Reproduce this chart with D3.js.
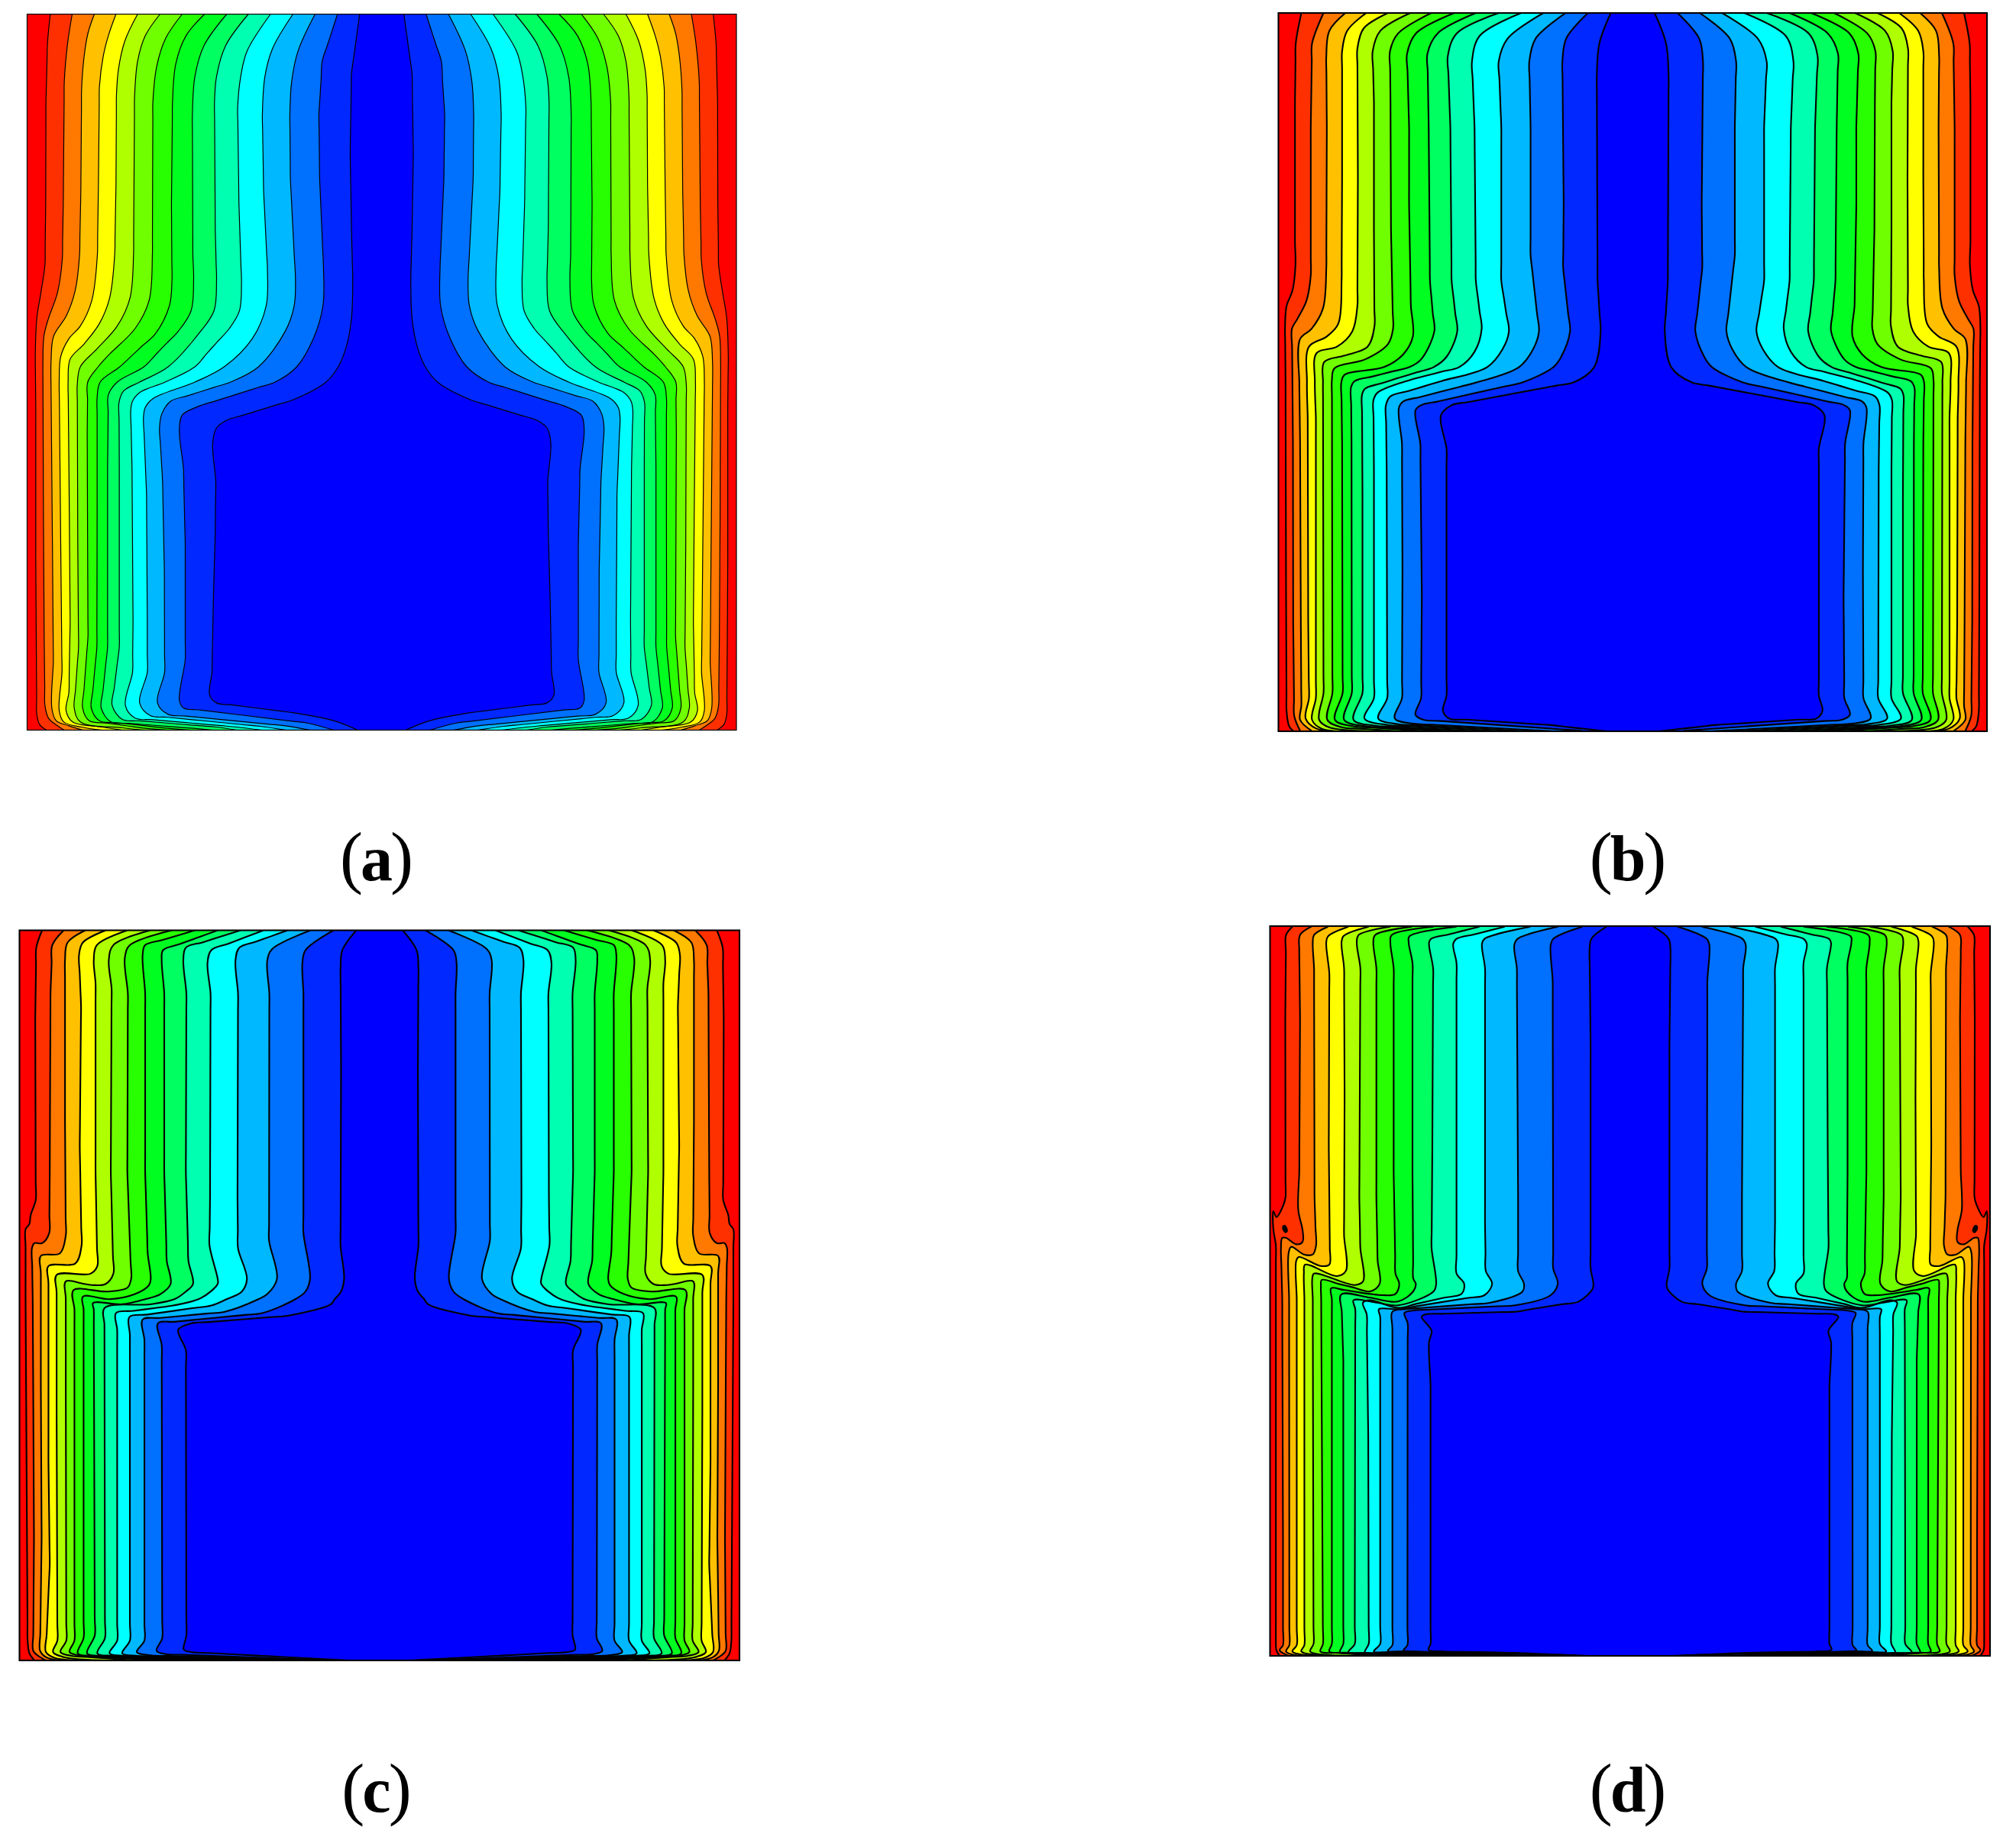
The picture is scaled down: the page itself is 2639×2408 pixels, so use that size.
<!DOCTYPE html>
<html>
<head>
<meta charset="utf-8">
<script src="https://cdn.jsdelivr.net/npm/d3@7/dist/d3.min.js"></script>
<style>
html,body{margin:0;padding:0;background:#fff;}
svg{display:block;}
</style>
</head>
<body>
<svg id="chart" width="2639" height="2408"></svg>
<script>
const bandColors = ["#ff0000","#ff3000","#ff7800","#ffc000","#ffff00","#b0ff00","#70ff00","#28ff00","#00ff20","#00ff60","#00ffb0","#00ffff","#00b8ff","#0070ff","#0028ff","#0000ff"];
const panelLabels = ["a","b","c","d"];

const contoursA = [
[[137,55],[126,170],[120,400],[119,800],[116,1040],[100,1150],[84,1250],[78,1400],[80,1600],[80,2200],[82,2540],[84,2805],[95,2845],[122,2867]],
[[223,55],[205,170],[192,320],[188,800],[184,1020],[165,1150],[130,1250],[112,1320],[108,1440],[110,2000],[113,2500],[116,2770],[130,2820],[165,2850],[192,2867]],
[[310,55],[285,130],[270,220],[260,350],[257,750],[252,1000],[235,1140],[200,1240],[150,1320],[140,1420],[140,1520],[146,2200],[149,2600],[143,2780],[160,2830],[210,2850],[265,2867]],
[[395,55],[365,140],[345,220],[330,340],[326,730],[322,1000],[300,1180],[255,1280],[210,1330],[178,1400],[172,1500],[178,2140],[183,2640],[172,2790],[190,2835],[260,2855],[340,2867]],
[[480,55],[430,160],[405,270],[397,370],[395,730],[390,1000],[370,1170],[330,1270],[270,1350],[215,1410],[207,1500],[212,2040],[215,2440],[210,2720],[199,2790],[225,2835],[340,2855],[420,2867]],
[[568,55],[510,140],[480,240],[468,380],[464,1000],[450,1170],[400,1280],[320,1370],[255,1440],[243,1510],[245,2140],[248,2540],[231,2780],[255,2835],[420,2858],[505,2867]],
[[655,55],[590,150],[555,260],[540,400],[538,1000],[525,1180],[470,1290],[370,1390],[325,1440],[284,1500],[282,1700],[285,2500],[264,2780],[290,2830],[510,2860],[595,2867]],
[[743,55],[670,140],[630,250],[617,400],[613,800],[615,1100],[605,1200],[550,1310],[410,1440],[333,1500],[321,1560],[321,2000],[320,2540],[298,2780],[330,2830],[600,2860],[685,2867]],
[[830,55],[740,180],[705,300],[695,450],[697,1000],[700,1100],[690,1220],[640,1300],[505,1440],[400,1500],[365,1550],[362,1840],[362,2540],[337,2780],[375,2835],[700,2860],[775,2867]],
[[915,55],[825,180],[790,300],[782,400],[785,900],[790,1100],[780,1220],[720,1310],[600,1440],[488,1500],[425,1535],[407,1580],[408,1840],[408,2540],[380,2770],[420,2825],[790,2855],[870,2867]],
[[1002,55],[910,200],[885,300],[873,420],[878,800],[888,1110],[880,1220],[840,1290],[705,1440],[588,1500],[490,1540],[460,1575],[453,1610],[458,1840],[462,2440],[460,2640],[432,2770],[470,2820],[870,2855],[968,2867]],
[[1090,55],[1010,190],[980,300],[970,450],[975,750],[990,1060],[985,1200],[930,1330],[820,1440],[705,1500],[540,1565],[510,1600],[503,1640],[515,1940],[518,2440],[518,2640],[488,2760],[530,2810],[960,2852],[1062,2867]],
[[1177,55],[1110,200],[1085,320],[1078,450],[1080,700],[1095,1000],[1100,1100],[1095,1200],[1060,1300],[955,1440],[845,1500],[610,1575],[575,1625],[566,1680],[578,1890],[585,2240],[586,2640],[558,2760],[600,2805],[1060,2850],[1158,2867]],
[[1265,55],[1205,240],[1192,450],[1195,700],[1210,1050],[1208,1200],[1170,1330],[1105,1440],[1020,1500],[720,1595],[655,1630],[644,1690],[660,1840],[667,2140],[667,2590],[644,2750],[660,2780],[1150,2840],[1250,2867]],
[[1352,55],[1320,290],[1315,600],[1320,900],[1325,1100],[1320,1250],[1300,1360],[1268,1440],[1220,1500],[1090,1570],[830,1650],[790,1680],[775,1740],[787,1890],[785,2090],[778,2340],[772,2640],[763,2730],[790,2760],[1100,2800],[1250,2830],[1345,2867]]
];

const contoursB = [
[[130,50],[108,170],[105,400],[105,950],[107,1040],[95,1140],[72,1200],[66,1280],[68,1500],[70,2340],[72,2790],[82,2850],[100,2870]],
[[217,50],[172,170],[167,500],[167,1080],[150,1180],[115,1250],[93,1290],[95,1500],[97,1740],[98,2440],[102,2810],[125,2868]],
[[303,50],[240,120],[228,220],[230,500],[228,1050],[215,1210],[170,1290],[125,1330],[122,1500],[125,1740],[128,2440],[130,2770],[125,2825],[170,2868]],
[[385,50],[310,120],[290,200],[290,700],[288,1100],[275,1270],[230,1320],[160,1360],[152,1500],[155,1640],[157,2440],[160,2740],[147,2820],[190,2860],[260,2870]],
[[470,50],[375,110],[350,190],[352,700],[350,1200],[330,1300],[270,1360],[190,1385],[183,1500],[187,1640],[187,2740],[172,2825],[210,2860],[330,2870]],
[[558,50],[440,120],[410,200],[415,400],[415,900],[417,1280],[390,1360],[300,1395],[220,1420],[215,1500],[217,2720],[200,2825],[240,2855],[420,2870]],
[[640,50],[510,130],[478,200],[480,400],[482,900],[490,1290],[470,1350],[380,1410],[260,1445],[250,1490],[252,2720],[232,2825],[290,2855],[510,2870]],
[[730,50],[580,130],[545,210],[553,500],[553,800],[560,1200],[568,1320],[530,1390],[455,1440],[300,1470],[287,1500],[290,1740],[292,2720],[262,2825],[330,2850],[620,2870]],
[[815,50],[665,130],[625,210],[630,500],[635,1100],[652,1300],[600,1410],[555,1440],[340,1495],[325,1520],[327,1740],[328,2720],[298,2825],[380,2850],[720,2870]],
[[905,50],[740,130],[705,220],[715,500],[720,1100],[742,1300],[700,1400],[650,1440],[440,1505],[380,1525],[368,1550],[370,1940],[370,2720],[335,2825],[420,2848],[820,2870]],
[[993,50],[830,140],[800,240],[810,500],[815,1100],[838,1290],[810,1380],[750,1440],[560,1490],[430,1540],[413,1570],[415,1840],[415,2740],[378,2820],[470,2845],[920,2870]],
[[1080,50],[940,150],[905,240],[915,500],[915,1100],[945,1300],[920,1370],[860,1440],[680,1495],[480,1555],[462,1590],[465,1840],[467,2740],[432,2820],[510,2842],[1020,2870]],
[[1168,50],[1050,150],[1025,240],[1030,500],[1030,1000],[1063,1300],[1040,1370],[985,1440],[820,1500],[530,1575],[513,1600],[525,1740],[527,2240],[525,2740],[497,2820],[570,2840],[1120,2870]],
[[1255,50],[1170,150],[1155,240],[1160,800],[1158,1050],[1185,1300],[1150,1400],[1120,1440],[1000,1500],[600,1590],[578,1610],[597,1740],[603,2340],[600,2740],[578,2805],[610,2825],[1230,2868]],
[[1345,50],[1300,170],[1290,300],[1293,1100],[1305,1300],[1280,1440],[1200,1500],[720,1590],[678,1630],[700,1760],[700,2730],[686,2790],[710,2820],[1100,2845],[1330,2870]]
];

const contoursC = [
[[135,52],[112,120],[108,400],[110,1110],[90,1170],[85,1205],[70,1225],[70,1500],[75,2340],[78,2840],[85,2890],[105,2918]],
[[220,52],[175,110],[168,300],[165,1000],[163,1240],[135,1280],[105,1280],[95,1300],[98,1500],[100,1840],[103,2440],[100,2880],[120,2900],[150,2918]],
[[305,52],[235,100],[225,170],[225,800],[228,1250],[205,1320],[130,1330],[130,1840],[133,2440],[127,2880],[150,2905],[200,2918]],
[[385,52],[295,100],[280,150],[288,350],[283,900],[290,1290],[265,1360],[160,1370],[160,2140],[165,2540],[150,2885],[185,2908],[300,2918]],
[[470,52],[350,110],[338,170],[345,260],[345,1000],[352,1370],[325,1400],[192,1405],[192,1940],[195,2840],[178,2885],[220,2905],[400,2918]],
[[560,52],[415,110],[397,170],[408,280],[405,1000],[415,1400],[385,1440],[345,1445],[300,1440],[228,1430],[228,1840],[230,2840],[207,2885],[250,2900],[500,2918]],
[[645,52],[480,110],[460,160],[472,300],[470,1000],[485,1420],[470,1455],[390,1470],[258,1465],[262,1540],[262,2840],[243,2885],[290,2900],[600,2918]],
[[735,52],[540,110],[530,150],[540,300],[540,1000],[550,1320],[562,1420],[555,1445],[500,1480],[400,1500],[295,1490],[298,1540],[298,2830],[275,2890],[330,2900],[700,2918]],
[[825,52],[610,130],[605,170],[615,300],[615,1000],[625,1350],[640,1440],[600,1480],[540,1500],[450,1520],[335,1515],[338,1540],[342,2820],[312,2890],[370,2900],[800,2918]],
[[915,52],[700,120],[690,170],[702,300],[700,1000],[710,1350],[728,1440],[700,1470],[655,1500],[560,1520],[380,1535],[380,1600],[382,2830],[352,2890],[410,2900],[900,2918]],
[[1005,52],[800,130],[785,180],[797,300],[795,1100],[793,1290],[825,1420],[825,1440],[760,1495],[650,1525],[425,1555],[430,1620],[430,2840],[400,2890],[460,2900],[1000,2918]],
[[1100,52],[910,120],[895,170],[905,300],[903,1100],[905,1300],[940,1420],[920,1470],[860,1500],[800,1525],[478,1570],[480,1640],[480,2840],[450,2890],[510,2900],[1100,2918]],
[[1190,52],[1040,125],[1020,170],[1028,300],[1027,1270],[1058,1420],[1020,1480],[985,1500],[850,1550],[530,1580],[537,1660],[537,2840],[507,2885],[560,2898],[1200,2918]],
[[1280,52],[1170,130],[1158,180],[1162,300],[1162,1240],[1188,1420],[1170,1470],[1130,1500],[1000,1555],[590,1595],[605,1680],[607,2830],[585,2880],[620,2893],[1260,2918]],
[[1370,52],[1315,130],[1308,200],[1310,600],[1308,1290],[1322,1420],[1310,1470],[1285,1500],[1270,1520],[1100,1565],[720,1595],[670,1620],[700,1700],[702,2820],[692,2875],[720,2885],[1000,2900],[1340,2918]]
];

const contoursD = [
[[125,37],[100,70],[97,400],[98,1100],[90,1130],[62,1178],[50,1155],[50,1225],[60,1290],[60,2840],[62,2880],[75,2902]],
[[200,37],[155,70],[152,130],[155,400],[152,1000],[148,1150],[165,1230],[165,1275],[140,1285],[100,1260],[85,1260],[80,1300],[85,1500],[88,2440],[88,2860],[75,2880],[110,2902]],
[[265,37],[210,70],[205,100],[210,200],[212,1100],[218,1290],[205,1325],[170,1325],[120,1295],[110,1320],[112,1500],[113,2860],[100,2885],[150,2902]],
[[345,37],[265,75],[258,100],[270,220],[268,900],[272,1300],[270,1365],[235,1370],[150,1335],[140,1350],[142,1500],[142,2860],[125,2885],[200,2902]],
[[425,37],[325,75],[318,100],[328,200],[330,700],[328,1250],[335,1390],[300,1410],[175,1365],[170,1400],[172,1500],[172,2860],[160,2885],[280,2902]],
[[510,37],[385,70],[378,100],[392,200],[388,1100],[392,1300],[403,1430],[370,1445],[210,1400],[203,1420],[205,1500],[208,2855],[195,2885],[360,2902]],
[[595,37],[450,70],[443,100],[455,200],[455,1100],[460,1350],[468,1440],[430,1470],[240,1425],[237,1450],[238,1500],[245,2855],[235,2885],[450,2902]],
[[680,37],[515,70],[510,100],[523,200],[523,1000],[530,1400],[545,1440],[530,1480],[480,1485],[330,1465],[277,1458],[280,1500],[280,2855],[270,2885],[540,2902]],
[[770,37],[585,75],[582,100],[597,180],[597,1000],[600,1420],[610,1440],[600,1470],[540,1510],[430,1495],[317,1482],[325,1740],[325,2855],[312,2888],[640,2902]],
[[860,37],[670,85],[662,100],[678,200],[675,900],[672,1300],[690,1440],[680,1470],[540,1525],[460,1515],[365,1505],[372,1540],[370,2855],[345,2888],[740,2902]],
[[960,37],[770,85],[757,105],[770,180],[770,1000],[770,1400],[800,1440],[790,1480],[540,1535],[430,1505],[402,1515],[417,1560],[423,2040],[425,2855],[410,2888],[840,2902]],
[[1060,37],[880,85],[870,105],[882,200],[882,1200],[885,1390],[910,1440],[880,1485],[540,1540],[465,1540],[470,1570],[470,2855],[445,2885],[950,2902]],
[[1170,37],[1010,85],[997,110],[1007,200],[1012,1100],[1012,1390],[1035,1440],[1030,1470],[900,1515],[570,1540],[518,1550],[518,2860],[500,2882],[1060,2902]],
[[1265,37],[1150,85],[1140,110],[1148,250],[1150,1380],[1168,1440],[1140,1485],[1000,1525],[600,1545],[565,1555],[578,1595],[577,2860],[562,2880],[600,2885],[1240,2900]],
[[1360,37],[1300,85],[1293,130],[1297,500],[1297,1380],[1308,1440],[1305,1460],[1250,1510],[1000,1550],[650,1560],[633,1570],[672,1625],[662,1670],[668,1840],[668,2855],[660,2878],[720,2885],[1000,2890],[1285,2902]]
];
const islandD = [[88,1215],[95,1212],[104,1232],[98,1238],[88,1225]];

const panelConfig = [
  {id:"a", contours:contoursA, islands:[],        xDom:[46,1439], yDom:[55,2867], box:[35.5,964,18.5,955.5],  sw:1.2, label:[493,1152]},
  {id:"b", contours:contoursB, islands:[],        xDom:[40,1431], yDom:[50,2870], box:[1673.5,2601,17,957],   sw:2.1, label:[2131,1152]},
  {id:"c", contours:contoursC, islands:[],        xDom:[46,1461], yDom:[52,2918], box:[25.5,968,1217.5,2173], sw:2.1, label:[493,2371]},
  {id:"d", contours:contoursD, islands:[islandD], xDom:[37,1452], yDom:[35,2902], box:[1662.5,2605,1212,2167],sw:2.1, label:[2131,2371]}
];

const svg = d3.select("#chart");
const curve = d3.curveCatmullRom.alpha(0.5);

// Keeps the spline straight along long runs: adds guide knots next to each end of a long span.
function guided(pts){
  const out=[pts[0]];
  for(let i=1;i<pts.length;i++){
    const a=pts[i-1], b=pts[i];
    const len=Math.hypot(b[0]-a[0],b[1]-a[1]);
    if(len>190){
      const f=70/len;
      out.push([a[0]+(b[0]-a[0])*f,a[1]+(b[1]-a[1])*f]);
      out.push([b[0]-(b[0]-a[0])*f,b[1]-(b[1]-a[1])*f]);
    }
    out.push(b);
  }
  return out;
}

panelConfig.forEach(p => {
  const [x0,x1,y0,y1] = p.box;
  const centre = p.xDom[1];
  const mirrorValue = v => 2*centre - v;
  const x = d3.scaleLinear().domain([p.xDom[0], mirrorValue(p.xDom[0])]).range([x0,x1]);
  const y = d3.scaleLinear().domain(p.yDom).range([y0,y1]);
  const baseLine = d3.line().x(d=>x(d[0])).y(d=>y(d[1])).curve(curve);
  const line = pts => baseLine(guided(pts));
  const mirrorPts = pts => pts.map(d=>[mirrorValue(d[0]),d[1]]);

  const defs = svg.append("defs");
  defs.append("clipPath").attr("id","clip-"+p.id).append("rect")
    .attr("x",x0).attr("y",y0).attr("width",x1-x0).attr("height",y1-y0);

  const g = svg.append("g").attr("clip-path","url(#clip-"+p.id+")");
  g.append("rect").attr("x",x0).attr("y",y0).attr("width",x1-x0).attr("height",y1-y0)
    .attr("fill",bandColors[0]);

  // nested fills: each contour and its mirror enclose all cooler bands
  g.selectAll("path.band").data(p.contours).join("path").attr("class","band")
    .attr("d",c=>{
      const right = mirrorPts(c).reverse();
      return line(c)+"L"+line(right).slice(1)+"Z";
    })
    .attr("fill",(c,i)=>bandColors[i+1]);

  const allLines = p.contours.flatMap(c=>[c,mirrorPts(c)]);
  g.selectAll("path.iso").data(allLines).join("path").attr("class","iso")
    .attr("d",line).attr("fill","none").attr("stroke","#000").attr("stroke-width",p.sw);

  const allIslands = p.islands.flatMap(c=>[c,mirrorPts(c)]);
  g.selectAll("path.island").data(allIslands).join("path").attr("class","island")
    .attr("d",c=>baseLine(c)+"Z").attr("fill","#000").attr("stroke","#000").attr("stroke-width",p.sw);

  svg.append("rect").attr("x",x0).attr("y",y0).attr("width",x1-x0).attr("height",y1-y0)
    .attr("fill","none").attr("stroke","#000").attr("stroke-width",p.sw);

  const t = svg.append("text").attr("x",p.label[0]).attr("y",p.label[1])
    .attr("text-anchor","middle").attr("font-family","'Liberation Serif',serif")
    .attr("font-size",90).attr("fill","#000");
  t.append("tspan").text("(");
  t.append("tspan").attr("font-weight","bold").attr("font-size",84).attr("dx",-3).text(p.id);
  t.append("tspan").attr("dx",-3).text(")");
});
</script>
</body>
</html>
